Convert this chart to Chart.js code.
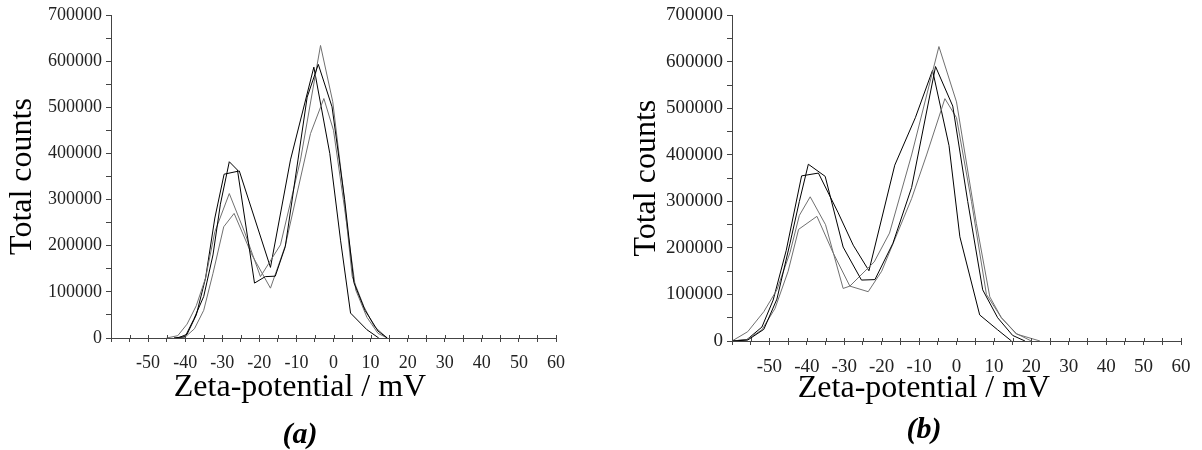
<!DOCTYPE html>
<html>
<head>
<meta charset="utf-8">
<script src="https://cdn.jsdelivr.net/npm/chart.js@4.4.0/dist/chart.umd.min.js"></script>
<style>
html,body{margin:0;padding:0;background:#fff;overflow:hidden;width:1202px;height:450px;}
canvas{position:absolute;top:0;}
#ca{left:0;}
#cb{left:624px;}
</style>
</head>
<body>
<canvas id="ca" width="600" height="450"></canvas>
<canvas id="cb" width="600" height="450"></canvas>
<script>
// ---------- tick labels / axis ----------
const xMin = -60, xMax = 60, xStep = 5;
const yMin = 0, yMax = 700000, yStep = 50000;
const xTitle = 'Zeta-potential / mV';
const yTitle = 'Total counts';
const panelLabels = ['(a)', '(b)'];

// ---------- panel (a) series: zeta potential (mV) and total counts ----------
const aX1 = [-43, -40, -37.7, -35, -32.5, -30.5, -28.1, -25.9, -21.3, -18.4, -15.7, -13, -7.1, -4.1, -0.4, 3, 5.5, 8.5, 12, 14.5];
const aY1 = [0, 3000, 40000, 90000, 180000, 290000, 382000, 364000, 119000, 133000, 134000, 198000, 522000, 593000, 501000, 300000, 120000, 60000, 15000, 0];
const aX2 = [-45, -42, -39.5, -37, -34.5, -32, -28.1, -24, -19.7, -14.3, -8.9, -3.5, -0.2, 2.5, 5.05, 8.2, 11, 14.5];
const aY2 = [0, 5000, 30000, 70000, 130000, 230000, 313000, 230000, 133000, 202000, 386000, 634000, 512000, 330000, 133000, 68000, 25000, 0];
const aX3 = [-43, -40, -37.5, -35, -32.5, -29.6, -26.8, -22, -17, -13, -6.2, -2.6, 0, 3, 6, 9, 12, 14.5];
const aY3 = [0, 2000, 20000, 60000, 140000, 241000, 270000, 180000, 108000, 200000, 443000, 519000, 450000, 280000, 104000, 45000, 10000, 0];
const aX4 = [-42, -39.5, -37, -34.5, -32, -29.5, -25.4, -17, -11.6, -5.3, -1, 1.9, 4.6, 9, 12.2];
const aY4 = [0, 8000, 50000, 130000, 260000, 355000, 362000, 153000, 386000, 587000, 400000, 212000, 54000, 18000, 0];

// ---------- panel (b) series ----------
const bX1 = [-60, -55.8, -51.5, -48, -44.5, -42, -39.6, -35.1, -30.3, -25.4, -21.8, -17, -12, -5.6, -1, 3, 7, 11, 15, 18.3];
const bY1 = [0, 2000, 25000, 90000, 210000, 300000, 380000, 354000, 202000, 131000, 132000, 210000, 330000, 590000, 505000, 300000, 110000, 50000, 12000, 0];
const bX2 = [-60, -55.8, -51.5, -48, -44.5, -42, -39.1, -35, -30.3, -28.5, -22, -17.9, -12, -4.7, 0, 5.3, 8.9, 12, 16, 20];
const bY2 = [0, 20000, 63000, 110000, 190000, 270000, 310000, 250000, 113000, 118000, 170000, 232000, 400000, 633000, 514000, 253000, 95000, 50000, 16000, 0];
const bX3 = [-60, -56, -52, -48.5, -45, -42.2, -37.3, -33, -28.5, -23.6, -20, -12, -8, -3.1, 0, 4, 8, 12, 16, 22.3];
const bY3 = [0, 3000, 24000, 70000, 150000, 240000, 268000, 190000, 118000, 106000, 150000, 306000, 400000, 521000, 480000, 300000, 100000, 50000, 15000, 0];
const bX4 = [-60, -56, -52, -49, -45.5, -41.4, -36.9, -31.7, -27.6, -23.4, -16.5, -11, -6.4, -2, 0.9, 6.2, 11, 14.7];
const bY4 = [0, 3000, 30000, 88000, 195000, 355000, 361000, 277000, 206000, 151000, 378000, 480000, 582000, 420000, 224000, 56000, 24000, 0];

const seriesColors = ['#000000', '#707070', '#707070', '#000000'];

function pts(xs, ys) { return xs.map((x, i) => ({x: x, y: ys[i]})); }

const innerTicks = {
  id: 'innerTicks',
  afterDraw(chart) {
    const xs = chart.scales.x, ctx = chart.ctx, y = chart.chartArea.bottom;
    ctx.save();
    ctx.strokeStyle = '#444';
    ctx.lineWidth = 1;
    xs.ticks.forEach(t => {
      const px = Math.round(xs.getPixelForValue(t.value)) + 0.5;
      ctx.beginPath(); ctx.moveTo(px, y - 3); ctx.lineTo(px, y); ctx.stroke();
    });
    ctx.restore();
  }
};

function makeChart(id, series, label, cfg) {
  const font = 'Liberation Serif';
  return new Chart(document.getElementById(id), {
    type: 'scatter',
    data: {
      datasets: series.map((s, i) => ({
        data: pts(s[0], s[1]),
        showLine: true,
        borderColor: seriesColors[i],
        borderWidth: 1,
        pointRadius: 0,
        fill: false,
        tension: 0
      }))
    },
    options: {
      responsive: false,
      animation: false,
      devicePixelRatio: 1,
      layout: {padding: {left: 0, right: 0, top: 15, bottom: 0}},
      plugins: {
        legend: {display: false},
        tooltip: {enabled: false},
        title: {
          display: true, position: 'bottom', text: label, color: '#000',
          font: {family: font, size: 30, weight: 'bold', style: 'italic', lineHeight: 1},
          padding: {top: cfg.titlePadTop, bottom: cfg.titlePadBottom}
        },
        subtitle: {
          display: true, position: 'bottom', text: xTitle, color: '#000',
          font: {family: font, size: 32, lineHeight: 1},
          padding: {top: 0, bottom: 0}
        }
      },
      scales: {
        x: {
          type: 'linear', min: xMin, max: xMax,
          afterFit: s => { s.height = cfg.xHeight; },
          border: {display: true, color: '#444', width: 1},
          grid: {display: true, drawOnChartArea: false, drawTicks: true, tickLength: 4, color: '#444'},
          ticks: {
            stepSize: xStep, autoSkip: false, maxRotation: 0, color: '#222', padding: cfg.xPad,
            font: {family: font, size: cfg.tickSize},
            callback: v => (v % 10 === 0 && v !== xMin) ? String(v) : ''
          }
        },
        y: {
          type: 'linear', min: yMin, max: yMax, position: 'left',
          afterFit: s => { s.width = cfg.yWidth; },
          border: {display: true, color: '#444', width: 1},
          grid: {display: true, drawOnChartArea: false, drawTicks: true, tickLength: 5, color: '#444'},
          ticks: {
            stepSize: yStep, autoSkip: false, color: '#222', padding: 4,
            font: {family: font, size: cfg.tickSize},
            callback: v => (v % 100000 === 0) ? String(v) : ''
          },
          title: {
            display: true, text: yTitle, color: '#000',
            font: {family: font, size: 32, lineHeight: 1},
            padding: {top: 7, bottom: 0}
          }
        },
        yRight: {
          type: 'linear', position: 'right', display: true,
          afterFit: s => { s.width = cfg.rightWidth; },
          border: {display: false},
          grid: {display: false},
          ticks: {display: false}
        }
      }
    },
    plugins: [innerTicks]
  });
}

makeChart('ca', [[aX1, aY1], [aX2, aY2], [aX3, aY3], [aX4, aY4]], panelLabels[0],
  {rightWidth: 44, xHeight: 34, yWidth: 111, xPad: 10, tickSize: 18, titlePadTop: 16, titlePadBottom: 0});
makeChart('cb', [[bX1, bY1], [bX2, bY2], [bX3, bY3], [bX4, bY4]], panelLabels[1],
  {rightWidth: 43, xHeight: 32, yWidth: 108, xPad: 11, tickSize: 19, titlePadTop: 10, titlePadBottom: 5});
</script>
</body>
</html>
